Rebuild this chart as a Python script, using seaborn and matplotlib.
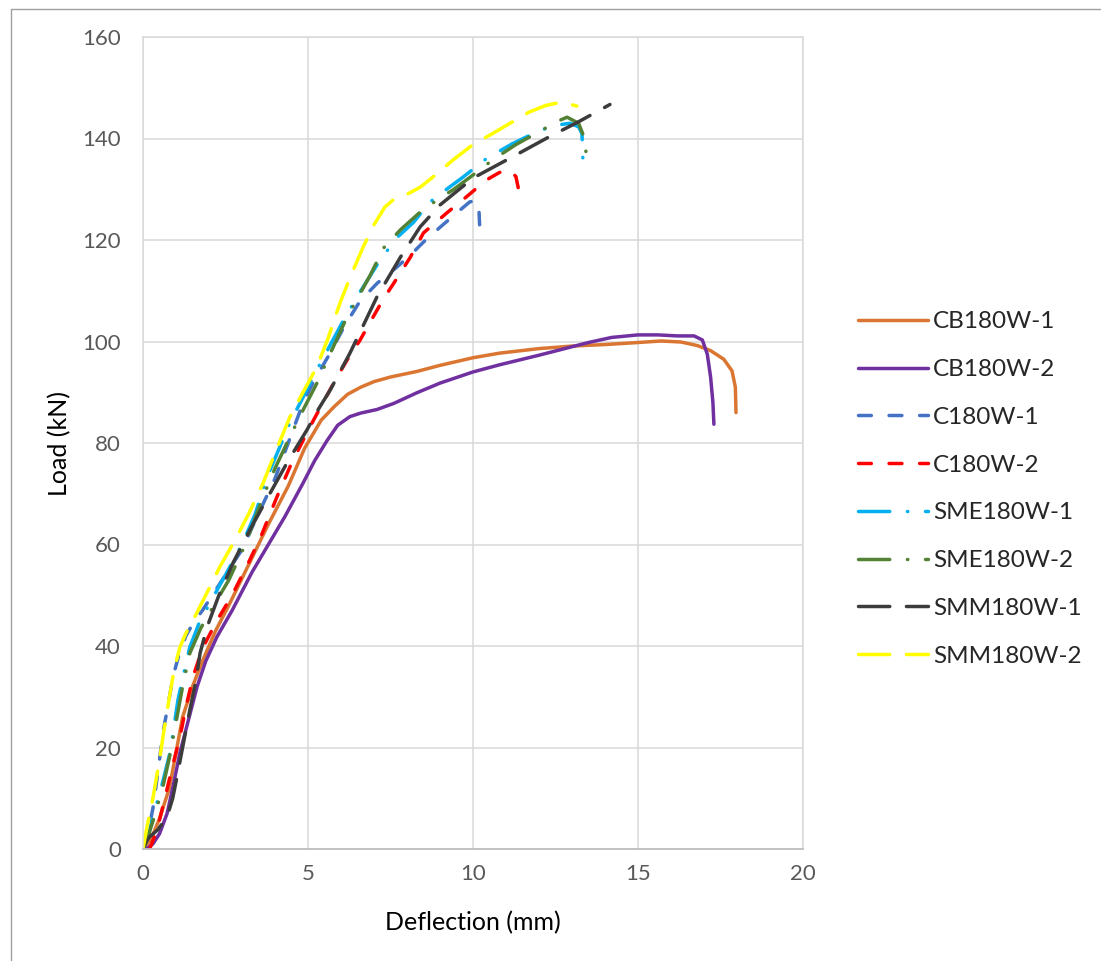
import numpy as np
import pandas as pd
import matplotlib
matplotlib.use("Agg")
import matplotlib.pyplot as plt
from matplotlib.lines import Line2D
import seaborn as sns

# Load-deflection data (x: deflection mm, y: load kN)
cb1_x = [0, 0.25, 0.5, 0.8, 1.0, 1.2, 1.5, 1.8, 2.2, 2.6, 3.2, 3.8, 4.4, 4.9, 5.4, 5.8, 6.2, 6.6,
         7.0, 7.5, 8.3, 9.0, 10.0, 10.8, 12.0, 13.0, 14.0, 15.0, 15.7, 16.3, 16.8, 17.2, 17.6,
         17.85, 17.95, 17.97]
cb1_y = [0, 2, 6, 12, 19, 26, 32, 37, 43, 48, 56, 64, 71.5, 79, 84.5, 87.2, 89.6, 91.0,
         92.1, 93.0, 94.1, 95.3, 96.8, 97.7, 98.6, 99.1, 99.4, 99.8, 100.1, 99.9, 99.2, 98.2, 96.5,
         94.2, 91, 86]

cb2_x = [0.1, 0.3, 0.5, 0.73, 0.9, 1.12, 1.4, 1.64, 1.9, 2.24, 2.7, 3.3, 3.8, 4.3, 4.85, 5.2,
         5.58, 5.9, 6.27, 6.6, 7.09, 7.6, 8.3, 9.0, 10.0, 10.8, 12.0, 12.6, 13.5, 14.2, 15.0,
         15.6, 16.2, 16.7, 16.95, 17.1, 17.2, 17.27, 17.3]
cb2_y = [0, 1, 3, 7, 12, 19, 26, 32, 37, 41.8, 47, 54.5, 60, 65.5, 72.1, 76.5, 80.5, 83.5,
         85.2, 85.9, 86.6, 87.8, 89.9, 91.8, 94, 95.4, 97.3, 98.3, 99.8, 100.8, 101.3, 101.3,
         101.1, 101.1, 100.3, 97.5, 93, 88, 83.7]

c1_x = [0.0, 0.15, 0.3, 0.45, 0.6, 0.75, 0.91, 1.1, 1.3, 1.52, 1.8, 2.2, 2.7, 3.0, 3.45, 4.0,
        4.4, 4.85, 5.2, 5.67, 6.1, 6.58, 7.1, 7.7, 8.1, 8.5, 9.0, 9.5, 9.9, 10.1, 10.18, 10.2]
c1_y = [0, 3, 8, 15, 22.8, 28, 34, 38.5, 42, 44.5, 47, 51, 56, 59, 65.4, 73, 80, 87.9, 92.5,
        97.7, 103, 108, 111.5, 114.7, 117, 119.6, 122.5, 125.3, 127.5, 127.8, 126, 123]

c2_x = [0.2, 0.35, 0.5, 0.7, 0.9, 1.12, 1.3, 1.52, 1.8, 2.24, 2.7, 3.24, 3.6, 4.06, 4.5, 5.06,
        5.5, 5.88, 6.2, 6.58, 6.9, 7.27, 7.7, 8.1, 8.5, 9.2, 9.8, 10.4, 10.8, 11.12, 11.3,
        11.38, 11.42]
c2_y = [0, 2.5, 5.7, 11, 16.5, 22, 28, 34, 39.5, 45, 50, 57, 62, 69.4, 76, 83.2, 88.5, 93,
        96.5, 100.3, 104, 108.2, 112.5, 116.6, 121.4, 125.3, 128.5, 131.8, 133.3, 133.8, 132.5,
        130, 126.9]

sme1_x = [0, 0.15, 0.3, 0.55, 0.82, 1.06, 1.25, 1.42, 1.7, 2.03, 2.5, 3.0, 3.4, 3.76, 4.1,
          4.45, 4.85, 5.27, 5.65, 6.06, 6.6, 7.18, 7.7, 8.2, 8.7, 9.2, 9.7, 10.4, 11.2, 12.0,
          12.5, 12.94, 13.2, 13.3, 13.32, 13.33]
sme1_y = [0, 2.5, 6.3, 12, 19, 29.4, 35, 39.8, 44.5, 48.5, 54, 60, 66, 73.3, 78.5, 84, 89,
          94.4, 99, 104, 110, 116, 120.5, 123.5, 127.5, 130, 132.4, 136, 139, 141.5, 142.6, 143,
          142.3, 141, 138.5, 135.8]

sme2_x = [0, 0.12, 0.35, 0.6, 0.8, 1.03, 1.2, 1.42, 1.75, 2.12, 2.6, 3.1, 3.64, 4.0, 4.45,
          4.85, 5.27, 5.7, 6.18, 6.5, 6.88, 7.3, 7.8, 8.4, 9.0, 9.4, 10.0, 10.6, 11.3, 12.1,
          12.6, 12.85, 13.2, 13.4, 13.45]
sme2_y = [0, 1.8, 6.5, 12.2, 18, 26, 32, 38.6, 43.5, 47.7, 53, 60, 69.4, 75, 81.2, 86.5, 91.8,
          98, 104.8, 108.5, 113, 118.5, 122, 125.5, 128.3, 129.9, 132.8, 135.8, 138.8, 141.7,
          143.5, 144.2, 143, 139.7, 134.4]

smm1_x = [0.0, 0.1, 0.2, 0.45, 0.73, 0.9, 1.03, 1.2, 1.42, 1.6, 1.73, 1.94, 2.3, 2.73, 3.24,
          3.85, 4.4, 4.97, 5.3, 5.67, 6.27, 6.7, 7.09, 7.8, 8.4, 9.0, 10.0, 11.2, 12.3, 13.2,
          14.15]
smm1_y = [0, 1.5, 2.4, 3.8, 6.3, 10, 14.2, 20, 27.4, 33, 38.6, 43.7, 50, 56.4, 62.9, 70.1,
          76.5, 82.6, 86.5, 90.4, 97.7, 103.5, 108.8, 116.6, 122.6, 126.9, 132.2, 136.4, 140.3,
          143.3, 146.7]

smm2_x = [0, 0.12, 0.3, 0.5, 0.65, 0.82, 0.95, 1.12, 1.3, 1.52, 1.9, 2.33, 2.8, 3.2, 3.64,
          4.0, 4.45, 4.85, 5.27, 5.6, 5.97, 6.3, 6.67, 7.0, 7.33, 7.6, 8.0, 8.4, 8.9, 9.4, 10.0,
          10.6, 11.2, 11.7, 12.2, 12.55, 12.9, 13.15]
smm2_y = [0, 4.3, 10, 17.5, 24, 30.7, 35.5, 39.8, 42.5, 45.1, 50, 55.6, 61, 66, 72.1, 78, 85.1,
          90, 95, 100.5, 107.6, 113, 118.6, 123, 126.5, 128, 129, 130.4, 133, 135.8, 138.8, 141,
          143.3, 145.2, 146.5, 147, 146.8, 146.4]

names = ["CB180W-1", "CB180W-2", "C180W-1", "C180W-2",
         "SME180W-1", "SME180W-2", "SMM180W-1", "SMM180W-2"]
xs = [cb1_x, cb2_x, c1_x, c2_x, sme1_x, sme2_x, smm1_x, smm2_x]
ys = [cb1_y, cb2_y, c1_y, c2_y, sme1_y, sme2_y, smm1_y, smm2_y]

# Excel-like styling
colors = ["#DA7632", "#7030A0", "#4472C4", "#FF0000",
          "#00B0F0", "#548235", "#3C3C3C", "#FFFF00"]
dash = (0, (3.7, 5.1))
longdash = (0, (9, 4.8))
dashdot = (0, (9, 5.1, 0.1, 5.1))
styles = ["-", "-", dash, dash, dashdot, dashdot, longdash, longdash]

sns.set_theme(style="white")
plt.rcParams["font.family"] = ["Lato", "DejaVu Sans"]

fig = plt.figure(figsize=(11.01, 9.61), dpi=100)
ax = fig.add_axes([143 / 1101, 1 - 849 / 961, 660 / 1101, 812 / 961])

for name, x, y, c, ls in zip(names, xs, ys, colors, styles):
    df = pd.DataFrame({"x": x, "y": y})
    sns.lineplot(data=df, x="x", y="y", ax=ax, sort=False, estimator=None,
                 color=c, linestyle=ls, lw=2.5, label=name,
                 dash_capstyle="round", solid_capstyle="round")

ax.set_xlim(0, 20)
ax.set_ylim(0, 160)
ax.set_xticks(np.arange(0, 21, 5))
ax.set_yticks(np.arange(0, 161, 20))
ax.grid(True, color="#D9D9D9", lw=1.1)
ax.tick_params(length=0, labelsize=16, labelcolor="#595959")
ax.tick_params(axis="y", pad=16)
ax.tick_params(axis="x", pad=11)
for s in ["top", "right", "left"]:
    ax.spines[s].set_color("#D9D9D9")
    ax.spines[s].set_linewidth(1.1)
ax.spines["bottom"].set_color("#BFBFBF")
ax.spines["bottom"].set_linewidth(1.3)

ax.set_xlabel("Deflection (mm)", fontsize=18, color="black", labelpad=19)
ax.set_ylabel("Load (kN)", fontsize=18, color="black", labelpad=8)

ax.legend(loc="center left", bbox_to_anchor=(858 / 1101, 1 - 489 / 961),
          bbox_transform=fig.transFigure, frameon=False, fontsize=17.5,
          handlelength=2.9, handletextpad=0.2, labelspacing=1.1,
          borderpad=0, borderaxespad=0)

# thin border around the chart area, like the original screenshot
fig.add_artist(Line2D([10.5 / 1101, 10.5 / 1101], [0, 1 - 8.5 / 961], color="#A0A0A0", lw=1))
fig.add_artist(Line2D([10.5 / 1101, 1], [1 - 8.5 / 961, 1 - 8.5 / 961], color="#A0A0A0", lw=1))

fig.savefig("out.png", dpi=100)
